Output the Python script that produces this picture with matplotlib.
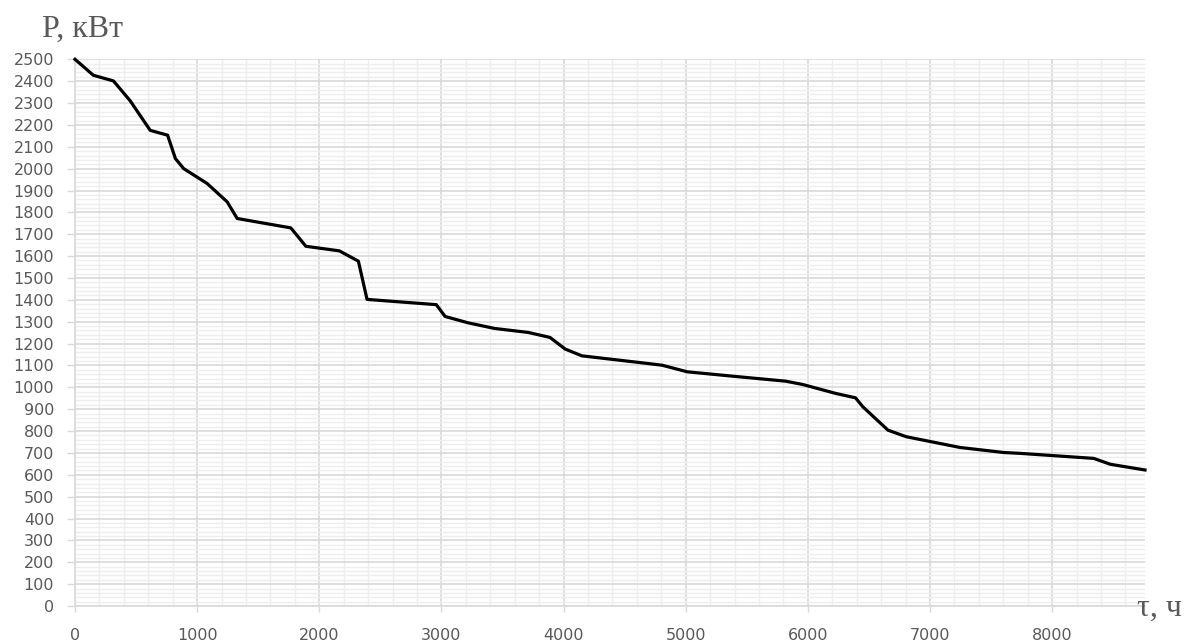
import matplotlib
matplotlib.use("Agg")
import matplotlib.pyplot as plt
from matplotlib.ticker import MultipleLocator

# Load duration curve data (hours, kW)
hours = [0, 150, 315, 452, 616, 758, 822, 890, 1082, 1246, 1328, 1767, 1890,
         2164, 2320, 2391, 2958, 3030, 3218, 3437, 3711, 3889, 4013, 4150,
         4643, 4807, 5012, 5382, 5820, 5957, 6229, 6390, 6450, 6656, 6806,
         7245, 7601, 7738, 8340, 8477, 8760]
power = [2500, 2427, 2401, 2310, 2175, 2153, 2046, 2000, 1932, 1848, 1772,
         1729, 1645, 1624, 1577, 1402, 1378, 1324, 1295, 1269, 1251, 1228,
         1175, 1144, 1112, 1101, 1071, 1051, 1028, 1013, 972, 952, 911, 804,
         774, 725, 702, 698, 675, 648, 622]

y_ticks = list(range(0, 2501, 100))
x_ticks = list(range(0, 8001, 1000))
y_label = "P, кВт"
x_label = "τ, ч"

W, H = 1189, 644
fig = plt.figure(figsize=(W / 100, H / 100), dpi=100)
ax = fig.add_axes([75 / W, 1 - 606 / H, (1145 - 75) / W, (606 - 59.3) / H])

grid_major = "#d9d9d9"
grid_minor = "#eeeeee"
txt = "#595959"

ax.set_xlim(0, 8760)
ax.set_ylim(0, 2500)
ax.set_xticks(x_ticks)
ax.set_yticks(y_ticks)
ax.xaxis.set_minor_locator(MultipleLocator(200))
ax.yaxis.set_minor_locator(MultipleLocator(20))

ax.grid(which="minor", color=grid_minor, linewidth=1.0, zorder=0)
ax.grid(which="major", color=grid_major, linewidth=1.2, zorder=0.5)
ax.set_axisbelow(True)

for s in ["top", "right"]:
    ax.spines[s].set_visible(False)
for s in ["left", "bottom"]:
    ax.spines[s].set_color(grid_major)
    ax.spines[s].set_linewidth(1.2)

ax.tick_params(axis="y", which="major", length=6, width=1, color=grid_major,
               labelsize=11.5, labelcolor=txt, pad=9)
ax.tick_params(axis="x", which="major", length=4, width=1, color=grid_major,
               labelsize=11.5, labelcolor=txt, pad=12)
ax.tick_params(which="minor", length=0)
for lab in ax.get_xticklabels() + ax.get_yticklabels():
    lab.set_fontfamily("DejaVu Sans")

ax.plot(hours, power, color="black", linewidth=2.3, solid_joinstyle="round",
        zorder=3, clip_on=False)

fig.text(42 / W, 1 - 29 / H, y_label, family="Liberation Serif", fontsize=23,
         color=txt, ha="left", va="center")
fig.text(1137 / W, 1 - 608 / H, x_label, family="Liberation Serif", fontsize=23,
         color=txt, ha="left", va="center")

fig.savefig("out.png", dpi=100)
